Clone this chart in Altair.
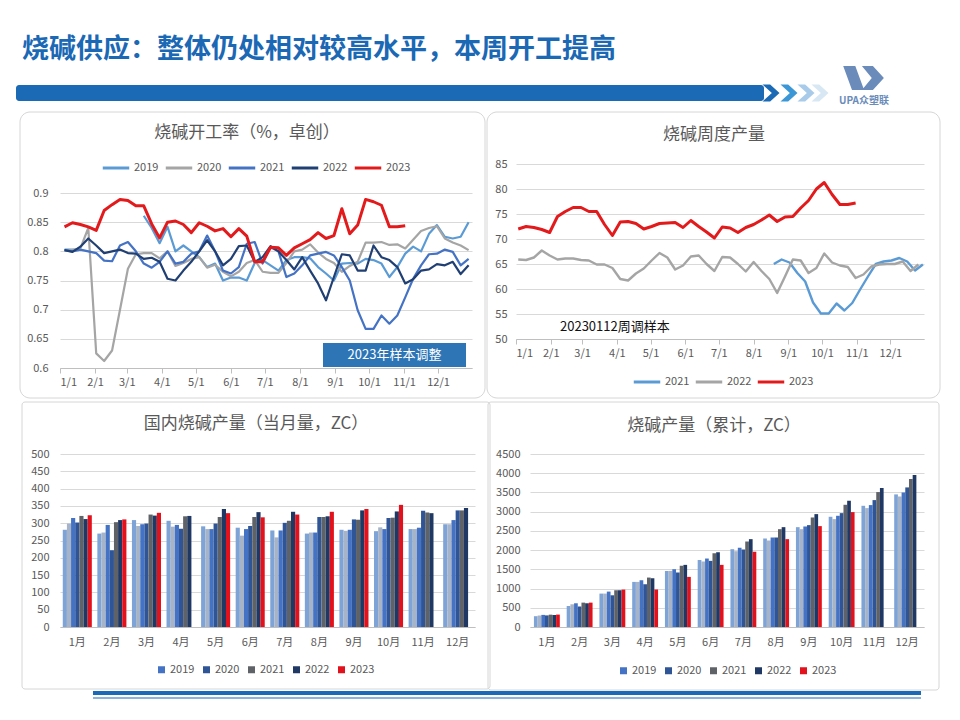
import altair as alt
import pandas as pd

FONT = "Noto Sans CJK SC"
TXT = "#595959"
GRID = "#D9D9D9"
AXLINE = "#BFBFBF"
BLUE = "#1B6AB6"

# ---------------- data ----------------
MONTH_DAYS = [0, 31, 59, 90, 120, 151, 181, 212, 243, 273, 304, 334]

# 烧碱开工率（%，卓创） weekly
rate_years = ["2019", "2020", "2021", "2022", "2023"]
rate_colors = ["#5B9BD5", "#A5A5A5", "#4472C4", "#203F73", "#E31A1C"]
rate_start_day = 4
rate_2019_early = [0.803, 0.803, 0.803]
rate_2019_late_week = 10
rate_2019_late = [0.861, 0.84, 0.814, 0.842, 0.80, 0.81, 0.80, 0.79, 0.773, 0.779,
                  0.75, 0.755, 0.755, 0.75, 0.78, 0.785, 0.776, 0.767, 0.785, 0.79,
                  0.79, 0.788, 0.773, 0.762, 0.75, 0.779, 0.78, 0.779, 0.787, 0.785,
                  0.779, 0.756, 0.773, 0.796, 0.808, 0.80, 0.83, 0.845, 0.825, 0.822,
                  0.825, 0.85]
rate_2020 = [0.802, 0.802, 0.805, 0.84, 0.625, 0.612, 0.63, 0.70, 0.77, 0.795,
             0.797, 0.797, 0.788, 0.80, 0.775, 0.78, 0.787, 0.79, 0.772, 0.777,
             0.765, 0.757, 0.765, 0.78, 0.785, 0.765, 0.763, 0.763, 0.78, 0.80,
             0.803, 0.812, 0.798, 0.787, 0.78, 0.765, 0.775, 0.782, 0.815, 0.815,
             0.816, 0.811, 0.812, 0.805, 0.82, 0.835, 0.84, 0.843, 0.822, 0.815,
             0.81, 0.802]
rate_2021 = [0.802, 0.80, 0.803, 0.80, 0.797, 0.784, 0.783, 0.81, 0.816, 0.80,
             0.779, 0.772, 0.782, 0.80, 0.779, 0.782, 0.796, 0.80, 0.827, 0.80,
             0.767, 0.762, 0.773, 0.813, 0.816, 0.779, 0.807, 0.80, 0.756, 0.762,
             0.776, 0.793, 0.796, 0.799, 0.793, 0.773, 0.75, 0.699, 0.667, 0.667,
             0.69, 0.676, 0.69, 0.721, 0.753, 0.776, 0.795, 0.796, 0.803, 0.799,
             0.776, 0.787]
rate_2022 = [0.802, 0.799, 0.808, 0.822, 0.81, 0.797, 0.80, 0.803, 0.797, 0.796,
             0.787, 0.789, 0.782, 0.753, 0.75, 0.767, 0.782, 0.80, 0.819, 0.80,
             0.776, 0.787, 0.809, 0.81, 0.782, 0.79, 0.809, 0.80, 0.785, 0.769,
             0.79, 0.767, 0.745, 0.716, 0.756, 0.795, 0.793, 0.767, 0.767, 0.81,
             0.79, 0.785, 0.773, 0.745, 0.752, 0.767, 0.769, 0.778, 0.776, 0.782,
             0.761, 0.776]
rate_2023 = [0.842, 0.849, 0.846, 0.842, 0.836, 0.870, 0.880, 0.889, 0.887, 0.878,
             0.878, 0.847, 0.823, 0.850, 0.852, 0.846, 0.832, 0.849, 0.843, 0.835,
             0.839, 0.825, 0.839, 0.826, 0.782, 0.782, 0.807, 0.806, 0.793, 0.806,
             0.813, 0.820, 0.832, 0.822, 0.827, 0.873, 0.830, 0.845, 0.889, 0.885,
             0.879, 0.842, 0.842, 0.844]

# 烧碱周度产量 weekly
out_years = ["2021", "2022", "2023"]
out_colors = ["#5B9BD5", "#A5A5A5", "#E31A1C"]
out_start_day = 2
out_2021_start_day = 230
out_2021 = [65.0, 65.9, 65.3, 63.2, 61.5, 57.3, 55.1, 55.1, 57.1, 55.7,
            57.2, 59.9, 62.5, 65.0, 65.5, 65.7, 66.2, 65.5, 63.7, 64.9]
out_2022 = [65.9, 65.8, 66.3, 67.7, 66.7, 65.9, 66.1, 66.1, 65.8, 65.7,
            64.9, 64.9, 64.2, 62.0, 61.7, 63.1, 64.1, 65.7, 67.2, 66.3,
            63.9, 64.7, 66.5, 66.7, 65.0, 63.6, 66.4, 66.3, 65.0, 63.5,
            65.4, 63.6, 62.0, 59.2, 62.5, 65.9, 65.7, 63.2, 64.2, 67.1,
            65.3, 64.7, 64.4, 62.2, 62.9, 64.5, 64.9, 65.0, 65.0, 65.5,
            63.6, 64.9]
out_2023 = [72.0, 72.5, 72.3, 71.9, 71.3, 74.5, 75.5, 76.3, 76.3, 75.5,
            75.5, 72.9, 70.7, 73.4, 73.5, 73.1, 72.0, 72.5, 73.1, 73.2,
            73.3, 72.3, 73.7, 72.5, 71.4, 70.2, 72.4, 72.2, 71.3, 72.3,
            72.9, 73.8, 74.8, 73.5, 74.4, 74.5, 76.2, 77.7, 80.0, 81.3,
            78.9, 76.9, 76.9, 77.2]

# 月度 (ZC)
months = ["1月", "2月", "3月", "4月", "5月", "6月", "7月", "8月", "9月", "10月", "11月", "12月"]
bar_years = ["2017", "2018", "2019", "2020", "2021", "2022", "2023"]
bar_colors = ["#7EA3D6", "#A7B4C8", "#4472C4", "#2F5597", "#5F6368", "#1F3864", "#E3111B"]
legend_years = ["2019", "2020", "2021", "2022", "2023"]

monthly = {
    "2017": [281, 270, 309, 307, 291, 287, 279, 270, 281, 277, 283, 297],
    "2018": [299, 273, 292, 290, 283, 264, 259, 273, 278, 288, 283, 297],
    "2019": [315, 295, 297, 295, 283, 283, 279, 273, 281, 283, 287, 309],
    "2020": [302, 222, 299, 284, 299, 292, 301, 318, 311, 315, 336, 337],
    "2021": [321, 303, 325, 320, 318, 318, 307, 318, 310, 316, 331, 337],
    "2022": [312, 309, 322, 321, 341, 332, 333, 320, 337, 334, 329, 344],
    "2023": [323, 311, 330, None, 329, 317, 325, 333, 341, 353, None, None],
}
cumulative = {
    "2017": [281, 547, 869, 1173, 1459, 1746, 2024, 2302, 2597, 2867, 3153, 3449],
    "2018": [299, 591, 869, 1173, 1459, 1703, 1972, 2250, 2545, 2806, 3093, 3397],
    "2019": [315, 617, 921, 1216, 1503, 1781, 2059, 2328, 2615, 2893, 3171, 3501],
    "2020": [302, 530, 825, 1112, 1416, 1720, 2015, 2328, 2650, 2962, 3301, 3631],
    "2021": [321, 634, 956, 1286, 1590, 1920, 2224, 2545, 2849, 3179, 3510, 3848],
    "2022": [312, 617, 956, 1268, 1616, 1946, 2285, 2597, 2936, 3284, 3614, 3953],
    "2023": [323, 634, 973, 973, 1303, 1616, 1955, 2285, 2624, 2988, None, None],
}


def weekly(values, start_day, year, seg):
    return [{"year": year, "day": start_day + 7 * i, "value": v, "seg": year + seg}
            for i, v in enumerate(values)]


rows1 = (weekly(rate_2019_early, rate_start_day, "2019", "a")
         + weekly(rate_2019_late, rate_start_day + 7 * rate_2019_late_week, "2019", "b")
         + weekly(rate_2020, rate_start_day, "2020", "a")
         + weekly(rate_2021, rate_start_day, "2021", "a")
         + weekly(rate_2022, rate_start_day, "2022", "a")
         + weekly(rate_2023, rate_start_day, "2023", "a"))
df1 = pd.DataFrame(rows1)

rows2 = (weekly(out_2021, out_2021_start_day, "2021", "a")
         + weekly(out_2022, out_start_day, "2022", "a")
         + weekly(out_2023, out_start_day, "2023", "a"))
df2 = pd.DataFrame(rows2)


def bars_df(table):
    rows = []
    for y in bar_years:
        for m, v in zip(months, table[y]):
            if v is not None:
                rows.append({"month": m, "year": y, "value": v})
    return pd.DataFrame(rows)


df3 = bars_df(monthly)
df4 = bars_df(cumulative)

# ---------------- helpers for decorations ----------------
ONE = pd.DataFrame({"k": [0]})


def rect(x, x2, y, y2, **kw):
    return alt.Chart(ONE).mark_rect(**kw).encode(
        x=alt.value(x), x2=alt.value(x2), y=alt.value(y), y2=alt.value(y2))


def label(text, x, y, **kw):
    return alt.Chart(pd.DataFrame({"t": [text]})).mark_text(**kw).encode(
        text="t:N", x=alt.value(x), y=alt.value(y))


def symbol(path, x, y, size, color):
    return alt.Chart(ONE).mark_point(shape=path, filled=True, size=size, color=color,
                                     opacity=1, strokeWidth=0).encode(
        x=alt.value(x), y=alt.value(y))


def border(x, x2, y, y2, r):
    return rect(x, x2, y, y2, fillOpacity=0, stroke="#D6D6D6", strokeWidth=1, cornerRadius=r)


def ptitle(text, x, y):
    return label(text, x, y, font=FONT, fontSize=17, color=TXT, align="center", baseline="middle")


def line_layers(df, x, y, years, colors, legend, thin, thick):
    color = alt.Color("year:N", scale=alt.Scale(domain=years, range=colors), legend=legend)
    base = alt.Chart(df).encode(x=x, y=y, color=color, detail="seg:N")
    a = base.transform_filter(alt.datum.year != "2023").mark_line(strokeWidth=thin, strokeJoin="round")
    b = base.transform_filter(alt.datum.year == "2023").mark_line(strokeWidth=thick, strokeJoin="round")
    return [a, b]


date_label = "timeFormat(datetime(2023, 0, 1 + datum.value), '%-m/%-d')"

# ---------------- Panel 1 ----------------
x1 = alt.X("day:Q", scale=alt.Scale(domain=[0, 364], range=[0, 412], nice=False, zero=False),
           axis=alt.Axis(values=MONTH_DAYS, labelExpr=date_label, grid=False, ticks=True,
                         tickSize=5, tickColor=AXLINE, domainColor=AXLINE, labelPadding=3,
                         title=None))
y1 = alt.Y("value:Q", scale=alt.Scale(domain=[0.6, 0.9], range=[204, 29], nice=False, zero=False),
           axis=alt.Axis(values=[0.6, 0.65, 0.7, 0.75, 0.8, 0.85, 0.9], format=".2~f", grid=True,
                         gridColor=GRID, domain=False, ticks=False, labelPadding=12, title=None))
leg1 = alt.Legend(orient="none", legendX=41, legendY=-11, direction="horizontal",
                  title=None, symbolType="stroke", symbolSize=700,
                  symbolStrokeWidth=3, columnPadding=0, labelOffset=3)
lines1 = line_layers(df1, x1, y1, rate_years, rate_colors, leg1, 2.2, 3)

deco1 = [
    rect(-52, 892, -156, 548, opacity=0, strokeWidth=0),  # page frame
    border(-40, 425, -52, 234, 10),
]
deco1b = [
    label("烧碱供应：整体仍处相对较高水平，本周开工提高", -38, -114, font=FONT, fontSize=27,
          fontWeight="bold", color="#1B68B5", align="left", baseline="middle"),
    rect(-44, 704, -79, -63, color=BLUE, cornerRadius=3),
    symbol("M-1,-1L-0.1,-1L1,0L-0.1,1L-1,1L0.1,0Z", 711, -71, 289, BLUE),
    symbol("M-1,-1L-0.1,-1L1,0L-0.1,1L-1,1L0.1,0Z", 729, -71, 289, "#3C97D6"),
    symbol("M-1,-1L-0.1,-1L1,0L-0.1,1L-1,1L0.1,0Z", 746, -71, 289, "#A8CBEA"),
    symbol("M-1,-1L-0.1,-1L1,0L-0.1,1L-1,1L0.1,0Z", 760, -71, 289, "#D8E7F4"),
    symbol("M-0.9,-0.55L-0.35,-0.55L0.05,0.55L-0.5,0.55Z M-0.05,-0.55L0.45,-0.55L0.95,0L0.45,0.55L-0.05,0.55L0.4,0Z",
           803, -86, 1936, "#6B8CBA"),
    label("UPA众塑联", 804, -63, font=FONT, fontSize=10, fontWeight="bold", color="#6B8CBA",
          align="center", baseline="middle"),
    ptitle("烧碱开工率（%，卓创）", 187, -31),
    rect(263, 406, 179, 203, color="#2E75B6"),
    label("2023年样本调整", 334.5, 191, font=FONT, fontSize=13, color="white",
          align="center", baseline="middle"),
]
p1 = alt.layer(*deco1, *lines1, *deco1b).properties(width=415, height=204)

# ---------------- Panel 2 ----------------
x2 = alt.X("day:Q", scale=alt.Scale(domain=[0, 364], nice=False, zero=False),
           axis=alt.Axis(values=MONTH_DAYS, labelExpr=date_label, grid=False, ticks=True,
                         tickSize=5, tickColor=AXLINE, domainColor=AXLINE, labelPadding=3,
                         title=None))
y2 = alt.Y("value:Q", scale=alt.Scale(domain=[50, 85], nice=False, zero=False),
           axis=alt.Axis(values=[50, 55, 60, 65, 70, 75, 80, 85], grid=True, gridColor=GRID,
                         domain=False, ticks=False, labelPadding=9, title=None))
leg2 = alt.Legend(orient="none", legendX=116, legendY=203, direction="horizontal",
                  title=None, symbolType="stroke", symbolSize=700,
                  symbolStrokeWidth=3, columnPadding=-1, labelOffset=3)
lines2 = line_layers(df2, x2, y2, out_years, out_colors, leg2, 2.4, 3)
p2 = alt.layer(
    border(-29, 424, -52, 234, 10),
    *lines2,
    ptitle("烧碱周度产量", 198, -29),
    label("20230112周调样本", 44, 163, font=FONT, fontSize=13, color="#111111",
          align="left", baseline="middle"),
).properties(width=408, height=175)

# ---------------- Panel 3 ----------------
bar_legend = dict(values=legend_years, orient="none", direction="horizontal", title=None,
                  symbolType="square", symbolSize=49, columnPadding=6, labelOffset=3)
bars3 = alt.Chart(df3).mark_bar().encode(
    x=alt.X("month:N", sort=months,
            scale=alt.Scale(domain=months, paddingInner=0.16, paddingOuter=0.08),
            axis=alt.Axis(labelAngle=0, ticks=False, domainColor=AXLINE, labelPadding=9,
                          title=None)),
    xOffset=alt.XOffset("year:N", scale=alt.Scale(domain=bar_years)),
    y=alt.Y("value:Q", scale=alt.Scale(domain=[0, 500], nice=False),
            axis=alt.Axis(values=list(range(0, 501, 50)), grid=True, gridColor=GRID,
                          domain=False, ticks=False, labelPadding=11, title=None)),
    color=alt.Color("year:N", scale=alt.Scale(domain=bar_years, range=bar_colors),
                    legend=alt.Legend(legendX=96, legendY=210, **bar_legend)),
)
p3 = alt.layer(
    border(-38, 430, -52, 235, 3),
    bars3,
    ptitle("国内烧碱产量（当月量，ZC）", 196, -30),
    rect(33, 861, 237, 241, color=BLUE),
    rect(33, 861, 243.5, 244.5, color=BLUE),
).properties(width=415, height=173)

# ---------------- Panel 4 ----------------
bars4 = alt.Chart(df4).mark_bar().encode(
    x=alt.X("month:N", sort=months,
            scale=alt.Scale(domain=months, range=[14, 408], paddingInner=0.21, paddingOuter=0.12),
            axis=alt.Axis(labelAngle=0, ticks=False, domainColor=AXLINE, labelPadding=9,
                          title=None)),
    xOffset=alt.XOffset("year:N", scale=alt.Scale(domain=bar_years)),
    y=alt.Y("value:Q", scale=alt.Scale(domain=[0, 4500], nice=False),
            axis=alt.Axis(values=list(range(0, 4501, 500)), format="d", grid=True, gridColor=GRID,
                          domain=False, ticks=False, labelPadding=-4, title=None)),
    color=alt.Color("year:N", scale=alt.Scale(domain=bar_years, range=bar_colors),
                    legend=alt.Legend(legendX=102, legendY=211, **bar_legend)),
)
p4 = alt.layer(
    border(-28, 423, -52, 236, 3),
    bars4,
    ptitle("烧碱产量（累计，ZC）", 198, -28),
).properties(width=408, height=173)

chart = alt.concat(
    p1, p2, p3, p4, columns=2, spacing={"row": 86, "column": 41}, bounds="flush", align="all"
).resolve_scale(
    x="independent", y="independent", color="independent",
    xOffset="independent"
).resolve_legend(color="independent").properties(
    padding=0, background="white"
).configure_view(stroke=None).configure_axis(
    labelFont=FONT, labelFontSize=11, labelColor=TXT
).configure_legend(
    labelFont=FONT, labelFontSize=11, labelColor=TXT
)

chart.save("out.html", embed_options={"renderer": "svg", "actions": False})
